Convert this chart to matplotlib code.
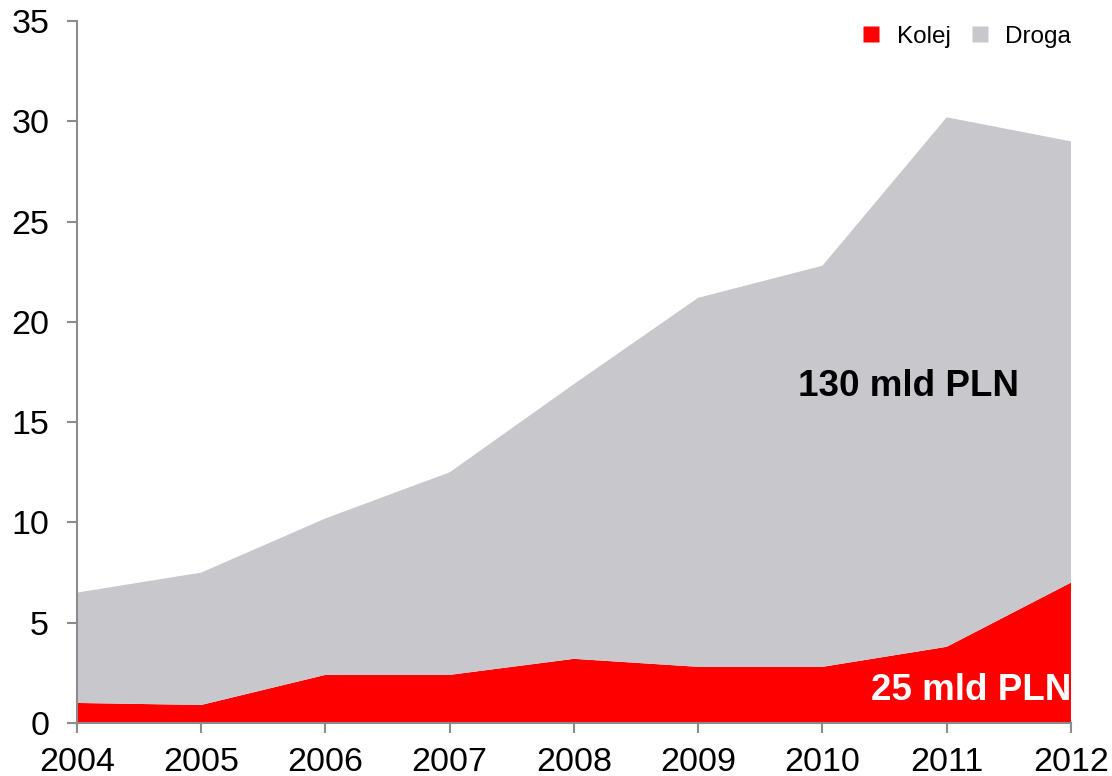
import matplotlib.pyplot as plt
from matplotlib.lines import Line2D

plt.rcParams['font.family'] = ['Liberation Sans', 'DejaVu Sans']

# data
years = [2004, 2005, 2006, 2007, 2008, 2009, 2010, 2011, 2012]
kolej = [1.0, 0.9, 2.4, 2.4, 3.2, 2.8, 2.8, 3.8, 7.0]
droga = [5.5, 6.6, 7.8, 10.1, 13.7, 18.4, 20.0, 26.4, 22.0]

red = '#FF0000'
grey = '#C8C7CC'
axis_grey = '#8C8C8C'

fig = plt.figure(figsize=(11.12, 7.76), dpi=100)
ax = fig.add_axes([0.0692, 0.0683, 0.8939, 0.9046])

ax.stackplot(years, kolej, droga, colors=[red, grey], linewidth=0)

ax.set_xlim(2004, 2012)
ax.set_ylim(0, 35)
ax.set_xticks(years)
ax.set_yticks(range(0, 36, 5))

for s in ['top', 'right']:
    ax.spines[s].set_visible(False)
for s in ['left', 'bottom']:
    ax.spines[s].set_color(axis_grey)
    ax.spines[s].set_linewidth(1.5)
ax.tick_params(direction='out', length=7, width=1.5, color=axis_grey,
               labelsize=24.5)
ax.tick_params(axis='x', pad=10)
ax.tick_params(axis='y', pad=13)

ax.text(2009.8, 16.8, '130 mld PLN', fontsize=26.5, fontweight='bold',
        ha='left', va='center', color='black')
ax.text(2012, 1.6, '25 mld PLN', fontsize=26.5, fontweight='bold',
        ha='right', va='center', color='white', clip_on=True)

handles = [Line2D([0], [0], marker='s', color='none', markerfacecolor=red,
                  markeredgecolor='none', markersize=11.5),
           Line2D([0], [0], marker='s', color='none', markerfacecolor=grey,
                  markeredgecolor='none', markersize=11.5)]
ax.legend(handles, ['Kolej', 'Droga'], loc='upper right', ncol=2,
          frameon=False, fontsize=17.5, bbox_to_anchor=(1.0, 0.993),
          borderaxespad=0, borderpad=0, handlelength=0.7,
          handletextpad=0.7, columnspacing=0.85)

fig.savefig('out.png', dpi=100)
